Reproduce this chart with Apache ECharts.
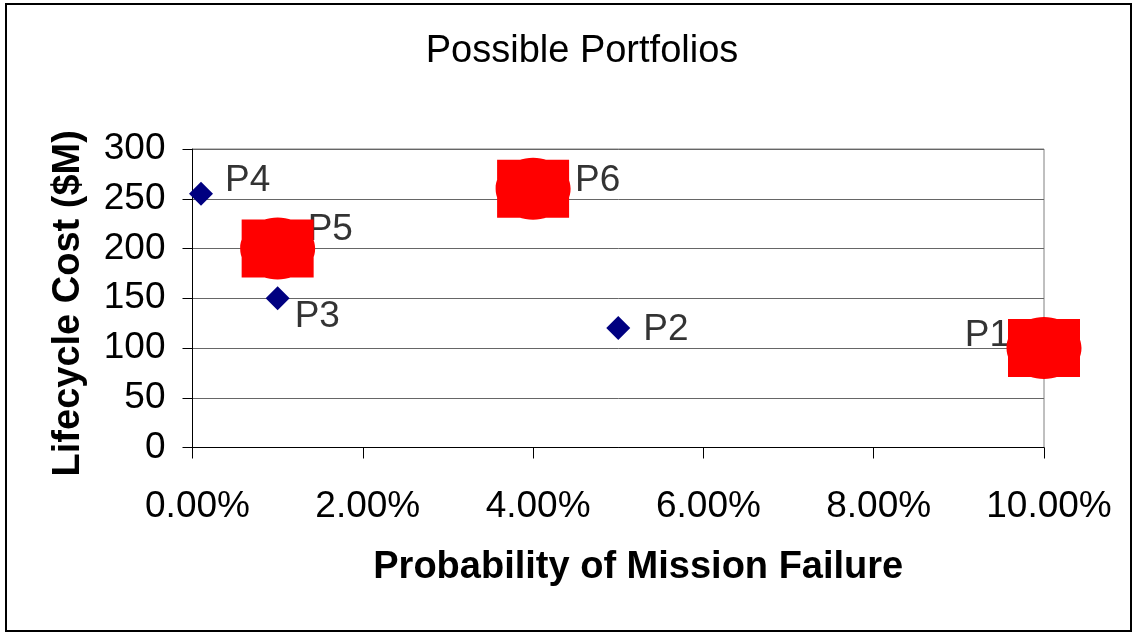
<!DOCTYPE html>
<html>
<head>
<meta charset="utf-8">
<script src="https://cdn.jsdelivr.net/npm/echarts@6/dist/echarts.min.js"></script>
<style>
html,body{margin:0;padding:0;background:#fff;}
#chart{width:1135px;height:634px;}
</style>
</head>
<body>
<div id="chart"></div>
<script>
// ---- data ----
const portfolioNames = ['P1', 'P2', 'P3', 'P4', 'P5', 'P6'];
const failureProbability = [0.10, 0.05, 0.01, 0.001, 0.01, 0.04];
const lifecycleCost = [100, 120, 150, 255, 200, 260];
const isHighlighted = [true, false, false, false, true, true];
const xTicks = [0, 0.02, 0.04, 0.06, 0.08, 0.10];
const yTicks = [0, 50, 100, 150, 200, 250, 300];

// ---- styling / layout (not data) ----
const FONT = "'Liberation Sans', Arial, sans-serif";
const labelLayout = {
  P1: { align: 'right', offset: [-34, -12] },
  P2: { align: 'left', offset: [25, 2] },
  P3: { align: 'left', offset: [17, 19] },
  P4: { align: 'left', offset: [24, -13] },
  P5: { align: 'left', offset: [30, -19] },
  P6: { align: 'left', offset: [42, -8] }
};
const blobPath = 'path://M-36,-29L36,-29L36,29L-36,29Z ' +
  'M-37.5,0C-37.5,-17.12,-20.71,-31,0,-31C20.71,-31,37.5,-17.12,37.5,0' +
  'C37.5,17.12,20.71,31,0,31C-20.71,31,-37.5,17.12,-37.5,0Z';

const allPoints = portfolioNames.map((n, i) => ({ name: n, value: [failureProbability[i], lifecycleCost[i]] }));
const redPoints = allPoints.filter((p, i) => isHighlighted[i]);
const bluePoints = allPoints.filter((p, i) => !isHighlighted[i]);
const labelPoints = allPoints.map(p => ({
  name: p.name, value: p.value,
  label: { align: labelLayout[p.name].align, offset: labelLayout[p.name].offset }
}));

const chart = echarts.init(document.getElementById('chart'), null, { renderer: 'canvas' });
chart.setOption({
  animation: false,
  backgroundColor: '#fff',
  title: {
    text: 'Possible Portfolios',
    left: 577, top: 28, textAlign: 'center',
    textStyle: { fontFamily: FONT, fontSize: 38, fontWeight: 'normal', color: '#000' }
  },
  grid: {
    left: 192.5, right: 91, top: 149, bottom: 186.5,
    show: true, borderColor: '#808080', borderWidth: 1, backgroundColor: 'transparent'
  },
  xAxis: {
    type: 'value', min: xTicks[0], max: xTicks[xTicks.length - 1], interval: xTicks[1] - xTicks[0],
    name: 'Probability of Mission Failure', nameLocation: 'middle', nameGap: 101,
    nameTextStyle: { fontFamily: FONT, fontSize: 38, fontWeight: 'bold', color: '#000', padding: [0, 0, 0, 40] },
    axisLine: { show: true, onZero: false, lineStyle: { color: '#000', width: 1 } },
    axisTick: { show: true, inside: false, length: 11, lineStyle: { color: '#000' } },
    axisLabel: {
      margin: 41, fontFamily: FONT, fontSize: 37, color: '#000', padding: [0, 0, 0, 10],
      formatter: v => (v * 100).toFixed(2) + '%'
    },
    splitLine: { show: false }
  },
  yAxis: {
    type: 'value', min: yTicks[0], max: yTicks[yTicks.length - 1], interval: yTicks[1] - yTicks[0],
    name: 'Lifecycle Cost ($M)', nameLocation: 'middle', nameGap: 105, nameRotate: 90,
    nameTextStyle: { fontFamily: FONT, fontSize: 38, fontWeight: 'bold', color: '#000', padding: [0, 10, 0, 0] },
    axisLine: { show: true, onZero: false, lineStyle: { color: '#000', width: 1 } },
    axisTick: { show: true, inside: false, length: 10, lineStyle: { color: '#000' } },
    axisLabel: { margin: 27, fontFamily: FONT, fontSize: 37, color: '#000' },
    splitLine: { show: true, lineStyle: { color: '#666', width: 1 } }
  },
  series: [
    {
      name: 'labels', type: 'scatter', z: 1, silent: true,
      symbolSize: 0, data: labelPoints,
      label: {
        show: true, position: 'inside', verticalAlign: 'middle',
        formatter: p => p.name,
        fontFamily: FONT, fontSize: 37, color: '#000'
      }
    },
    {
      name: 'Portfolios', type: 'scatter', z: 3,
      symbol: 'diamond', symbolSize: 24,
      itemStyle: { color: '#000080', opacity: 1 },
      data: bluePoints
    },
    {
      name: 'Selected', type: 'scatter', z: 3,
      symbol: blobPath, symbolSize: [75, 62],
      itemStyle: { color: '#ff0000', opacity: 1 },
      data: redPoints
    }
  ],
  graphic: [
    {
      type: 'rect', z: 100, silent: true,
      shape: { x: 6, y: 4, width: 1125, height: 627 },
      style: { fill: 'none', stroke: '#000', lineWidth: 2 }
    }
  ]
});
</script>
</body>
</html>
